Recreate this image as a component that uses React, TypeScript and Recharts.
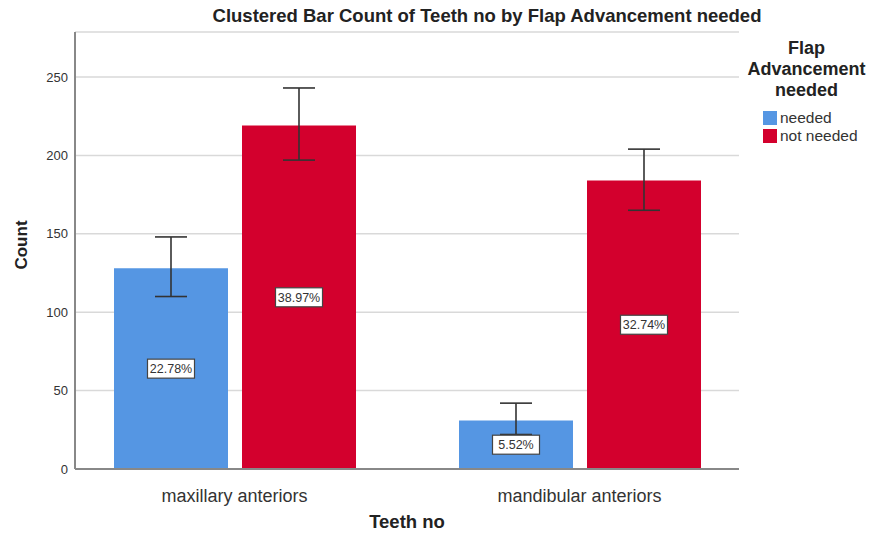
import { Bar, BarChart, CartesianGrid, ErrorBar, LabelList, Legend, XAxis, YAxis } from "recharts"

// counts, CI ends are the error bar caps
const categories = ["maxillary anteriors", "mandibular anteriors"]
const neededCounts = [128, 31]
const notNeededCounts = [219, 184]
const neededPercents = ["22.78%", "5.52%"]
const notNeededPercents = ["38.97%", "32.74%"]
const neededCiLow = [110, 22]
const neededCiHigh = [148, 42]
const notNeededCiLow = [197, 165]
const notNeededCiHigh = [243, 204]
const yTicks = [0, 50, 100, 150, 200, 250]

const BLUE = "#5596e3"
const RED = "#d3002d"
const FONT = '"Liberation Sans", Arial, sans-serif'

const data = categories.map((name, i) => ({
  name,
  needed: neededCounts[i],
  notNeeded: notNeededCounts[i],
  neededPct: neededPercents[i],
  notNeededPct: notNeededPercents[i],
  neededErr: [neededCounts[i] - neededCiLow[i], neededCiHigh[i] - neededCounts[i]],
  notNeededErr: [notNeededCounts[i] - notNeededCiLow[i], notNeededCiHigh[i] - notNeededCounts[i]],
}))

const PctLabel = (props: any) => {
  const { x, y, width, height, value } = props
  const cx = Number(x) + Number(width) / 2
  const cy = Number(y) + Number(height) / 2
  const w = 47
  const h = 19
  return (
    <g>
      <rect x={cx - w / 2} y={cy - h / 2} width={w} height={h} fill="#fff" stroke="#444" strokeWidth={1.2} />
      <text x={cx} y={cy + 4.5} textAnchor="middle" fontSize={12.5} fill="#333" fontFamily={FONT}>
        {value}
      </text>
    </g>
  )
}

const LegendBox = (props: any) => {
  const items = props.payload || []
  return (
    <div style={{ fontFamily: FONT, color: "#222" }}>
      <div style={{ fontWeight: "bold", fontSize: 18, lineHeight: "21px", textAlign: "center" }}>
        Flap
        <br />
        Advancement
        <br />
        needed
      </div>
      <div style={{ marginTop: 8, marginLeft: 23 }}>
        {items.map((it: any) => (
          <div key={it.value} style={{ display: "flex", alignItems: "center", height: 18, fontSize: 15.5, color: "#333" }}>
            <span style={{ width: 14, height: 14, background: it.color, marginRight: 3, display: "inline-block" }} />
            {it.value}
          </div>
        ))}
      </div>
    </div>
  )
}

export default function App() {
  return (
    <div style={{ position: "absolute", left: 0, top: 0, width: 873, height: 534, background: "#fff", fontFamily: FONT }}>
      <div
        style={{
          position: "absolute",
          left: 0,
          width: 974,
          top: 5,
          textAlign: "center",
          fontWeight: "bold",
          fontSize: 18.5,
          color: "#222",
        }}
      >
        Clustered Bar Count of Teeth no by Flap Advancement needed
      </div>
      <div
        style={{
          position: "absolute",
          left: 22,
          top: 245,
          transform: "translate(-50%, -50%) rotate(-90deg)",
          fontWeight: "bold",
          fontSize: 17,
          color: "#222",
        }}
      >
        Count
      </div>
      <div
        style={{
          position: "absolute",
          left: 0,
          width: 814,
          top: 511,
          textAlign: "center",
          fontWeight: "bold",
          fontSize: 18.5,
          color: "#222",
        }}
      >
        Teeth no
      </div>
      <BarChart
        width={873}
        height={534}
        data={data}
        margin={{ top: 32, right: 134, left: 15, bottom: 35 }}
        barSize={114}
        barGap={14}
      >
        <CartesianGrid vertical={false} stroke="#d9d9d9" strokeWidth={1.5} />
        <XAxis
          dataKey="name"
          height={30}
          padding={{ left: -13, right: -13 }}
          tickLine={false}
          tickSize={0}
          tickMargin={20}
          axisLine={{ stroke: "#888", strokeWidth: 2 }}
          tick={{ fontSize: 18, fill: "#333", fontFamily: FONT }}
        />
        <YAxis
          width={60}
          domain={[0, 278.7]}
          ticks={yTicks}
          tickLine={false}
          tickSize={0}
          tickMargin={7}
          axisLine={{ stroke: "#888", strokeWidth: 2 }}
          tick={{ fontSize: 13, fill: "#333", fontFamily: FONT }}
        />
        <Legend
          layout="horizontal"
          verticalAlign="middle"
          align="center"
          content={LegendBox}
          wrapperStyle={{ position: "absolute", left: 740, top: 38, width: 133 }}
        />
        <Bar dataKey="needed" name="needed" fill={BLUE} isAnimationActive={false}>
          <LabelList dataKey="neededPct" content={PctLabel} />
          <ErrorBar dataKey="neededErr" width={16} stroke="#333" strokeWidth={1.6} direction="y" />
        </Bar>
        <Bar dataKey="notNeeded" name="not needed" fill={RED} isAnimationActive={false}>
          <LabelList dataKey="notNeededPct" content={PctLabel} />
          <ErrorBar dataKey="notNeededErr" width={16} stroke="#333" strokeWidth={1.6} direction="y" />
        </Bar>
      </BarChart>
    </div>
  )
}
